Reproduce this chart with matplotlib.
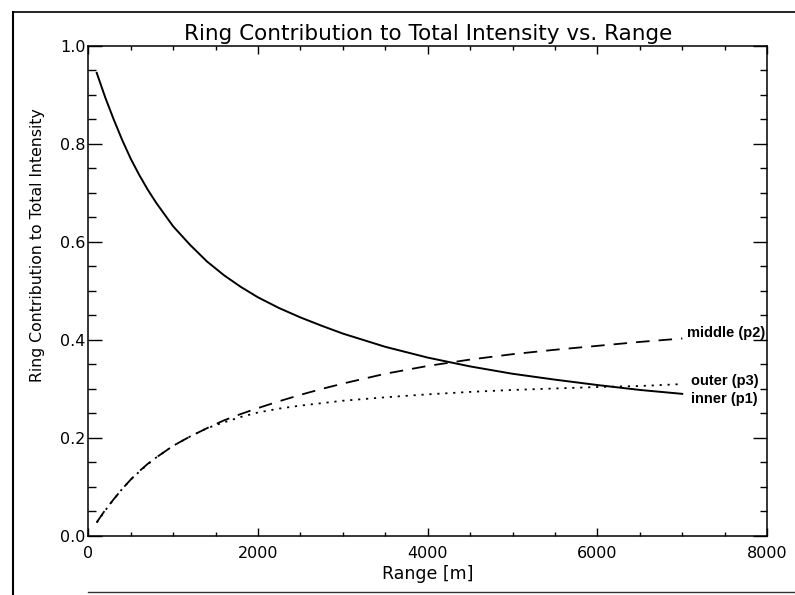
import numpy as np
import matplotlib
matplotlib.use('Agg')
import matplotlib.pyplot as plt
from matplotlib.ticker import MultipleLocator
from matplotlib.lines import Line2D

# Range samples [m] and contribution of each ring to the total intensity
range_m = [100, 200, 300, 400, 500, 600, 700, 800, 1000, 1200, 1400, 1600,
           1800, 2000, 2250, 2500, 2750, 3000, 3500, 4000, 4500, 5000, 5500,
           6000, 6500, 7000]
inner_p1 = [0.945, 0.895, 0.850, 0.808, 0.770, 0.737, 0.707, 0.680, 0.632,
            0.594, 0.560, 0.532, 0.508, 0.487, 0.465, 0.446, 0.429, 0.413,
            0.386, 0.364, 0.346, 0.331, 0.319, 0.308, 0.298, 0.290]
middle_p2 = [0.028, 0.053, 0.075, 0.096, 0.115, 0.132, 0.147, 0.160, 0.184,
             0.203, 0.220, 0.236, 0.249, 0.261, 0.275, 0.288, 0.300, 0.311,
             0.331, 0.347, 0.360, 0.371, 0.380, 0.388, 0.396, 0.403]
outer_p3 = [0.027, 0.052, 0.075, 0.096, 0.115, 0.131, 0.146, 0.160, 0.184,
            0.203, 0.220, 0.232, 0.243, 0.252, 0.260, 0.266, 0.271, 0.276,
            0.283, 0.289, 0.294, 0.298, 0.301, 0.304, 0.306, 0.310]

title = 'Ring Contribution to Total Intensity vs. Range'
x_label = 'Range [m]'
y_label = 'Ring Contribution to Total Intensity'

fig = plt.figure(figsize=(7.95, 5.95), dpi=100)
ax = fig.add_axes([0.111, 0.0992, 0.854, 0.8236])

ax.plot(range_m, inner_p1, color='black', lw=1.4, linestyle='-')
ax.plot(range_m, middle_p2, color='black', lw=1.3, dashes=(7.5, 5.0))
ax.plot(range_m, outer_p3, color='black', lw=1.3, dashes=(1.2, 3.2))

# curve names at the end of each line
lbl = dict(fontsize=10.5, fontweight='bold', family='Liberation Sans', va='center', ha='left')
ax.text(range_m[-1] + 50, middle_p2[-1] + 0.011, 'middle (p2)', **lbl)
ax.text(range_m[-1] + 100, outer_p3[-1] + 0.007, 'outer (p3)', **lbl)
ax.text(range_m[-1] + 100, inner_p1[-1] - 0.011, 'inner (p1)', **lbl)

ax.set_xlim(0, 8000)
ax.set_ylim(0, 1.0)
ax.xaxis.set_major_locator(MultipleLocator(2000))
ax.xaxis.set_minor_locator(MultipleLocator(500))
ax.yaxis.set_major_locator(MultipleLocator(0.2))
ax.yaxis.set_minor_locator(MultipleLocator(0.05))
ax.yaxis.set_major_formatter(plt.FormatStrFormatter('%.1f'))

ax.tick_params(axis='both', which='both', direction='in', top=True, right=True,
               width=1.0, labelsize=11.5)
ax.tick_params(axis='x', which='major', length=5.8, pad=7)
ax.tick_params(axis='x', which='minor', length=3.1)
ax.tick_params(axis='y', which='major', length=10, pad=2)
ax.tick_params(axis='y', which='minor', length=5.4)
for s in ax.spines.values():
    s.set_linewidth(1.1)

ax.set_title(title, fontsize=15.5, pad=4)
ax.set_xlabel(x_label, fontsize=12.5, labelpad=3)
fig.text(38 / 795, 1 - 245 / 595, y_label, rotation=90, ha='center',
         va='center', fontsize=11.3)

# page border
fig.add_artist(Line2D([13 / 795, 13 / 795], [0, 1 - 12 / 595], color='black', lw=1.5))
fig.add_artist(Line2D([13 / 795, 1], [1 - 12 / 595, 1 - 12 / 595], color='black', lw=1.2))
fig.add_artist(Line2D([88 / 795, 1], [3 / 595, 3 / 595], color='#333333', lw=1.0))

plt.savefig('out.png', dpi=100)
